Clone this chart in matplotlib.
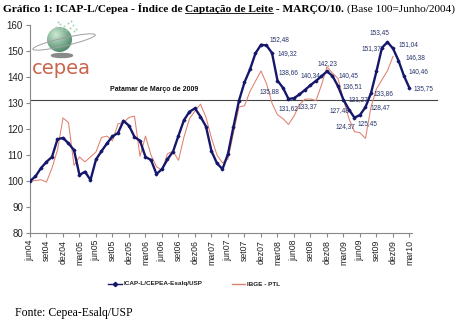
import numpy as np
import matplotlib
matplotlib.use("Agg")
import matplotlib.pyplot as plt
from matplotlib.patches import Circle, Ellipse
from matplotlib.lines import Line2D

plt.rcParams['font.family'] = ['Liberation Sans', 'DejaVu Sans']

# eixo x: um ponto por mes, rotulo a cada trimestre (jun/04 .. mar/10)
rotulos_x = ["jun04", "set04", "dez04", "mar05", "jun05", "set05", "dez05", "mar06",
             "jun06", "set06", "dez06", "mar07", "jun07", "set07", "dez07", "mar08",
             "jun08", "set08", "dez08", "mar09", "jun09", "set09", "dez09", "mar10"]

# ICAP-L/Cepea, base 100 = junho/2004
icap = [100.0, 101.8, 105.0, 107.4, 109.3, 116.1, 116.6, 114.5, 111.9, 102.3,
        103.6, 100.4, 108.3, 111.5, 114.5, 117.2, 118.5, 123.2, 121.3, 117.0,
        115.5, 109.3, 108.1, 102.7, 104.6, 108.4, 111.3, 117.5, 123.5, 126.7,
        128.0, 124.8, 121.0, 111.5, 106.8, 104.6, 110.5, 121.0, 131.0, 138.0,
        143.0, 149.2, 152.48, 152.2, 149.32, 138.66, 135.88, 131.62, 131.9, 133.37,
        135.1, 136.9, 138.6, 140.34, 142.23, 140.45, 136.51, 131.27, 127.48, 124.37,
        125.45, 128.47, 133.86, 142.3, 151.37, 153.45, 151.04, 146.38, 140.46, 135.75]

# IBGE - PTL (ate dez/09)
ibge = [100.0, 100.2, 100.5, 99.6, 105.0, 112.0, 124.3, 122.5, 106.0, 109.3,
        107.4, 109.3, 111.2, 116.8, 117.3, 115.5, 122.0, 122.5, 124.5, 125.0,
        109.5, 117.3, 110.0, 105.5, 104.2, 110.5, 111.5, 108.0, 117.0, 124.0,
        127.0, 129.6, 124.5, 116.5, 110.0, 107.0, 108.5, 118.5, 128.5, 129.0,
        134.5, 138.5, 142.4, 137.5, 130.0, 125.5, 124.0, 121.8, 125.0, 129.5,
        131.5, 131.6, 131.0, 137.0, 144.0, 141.5, 139.5, 131.3, 124.0, 119.0,
        118.6, 116.4, 128.5, 135.5, 139.0, 142.5, 148.0]

# meses do ICAP com valor escrito no grafico
meses_rotulados = [42, 44, 45, 46, 47, 49, 53, 54, 55, 56, 57, 58, 59, 60, 61, 62,
                   64, 65, 66, 67, 68, 69]
mes_patamar = 57  # marco/2009

# deslocamento (px) de cada rotulo em relacao ao ponto
desloc = [(9, 5), (6, -1), (1, 8), (-23, -4), (-10, -10), (-2, -12), (-21, 1), (-9, 8),
          (6, 0), (5, 0), (5, 0), (-19, -1), (-19, -9), (-2, -9), (5, 0), (3, 0),
          (-20, -1), (-18, 10), (6, 4), (7, 3), (5, 4), (4, 0)]

azul = '#15176a'
salmao = '#e0806e'
cinza = '#888888'

fig = plt.figure(figsize=(4.6, 3.26), dpi=100)
ax = fig.add_axes([30 / 460, 1 - 233 / 326, (411.7 - 30) / 460, (233 - 25.2) / 326])
ax.patch.set_alpha(0)

x_icap = np.arange(len(icap))
x_ibge = np.arange(len(ibge))

patamar = icap[mes_patamar]
ax.plot([0, 74], [patamar, patamar], color='#444444', lw=0.8, clip_on=False, zorder=1)
ax.text(22.6, 135.2, "Patamar de Março de 2009", fontsize=5, fontweight='bold',
        ha='center', va='center', color='#111111')

ax.plot(x_ibge, ibge, color=salmao, lw=0.75, zorder=2)
ax.plot(x_icap, icap, color=azul, lw=1.7, marker='D', ms=1.4, zorder=3)

for i, (dx, dy) in zip(meses_rotulados, desloc):
    ax.annotate(f"{icap[i]:.2f}".replace('.', ','), (i, icap[i]), xytext=(dx, dy),
                textcoords='offset pixels', fontsize=4.7, color='#27336b',
                ha='left', va='center')

ax.set_xlim(0, 69.4)
ax.set_ylim(80, 160)
ax.set_yticks(range(80, 161, 10))
ax.set_xticks(range(0, len(icap), 3))
ax.set_xticklabels(rotulos_x, rotation=90)
for lado in ['top', 'right']:
    ax.spines[lado].set_visible(False)
for lado in ['left', 'bottom']:
    ax.spines[lado].set_color(cinza)
    ax.spines[lado].set_linewidth(0.8)
ax.tick_params(axis='y', length=3, color=cinza, labelsize=7, labelcolor='#222222', pad=2)
ax.tick_params(axis='x', length=3, color=cinza, labelsize=6.3, labelcolor='#222222', pad=2)

# camada em pixels para titulo, logo, legenda e fonte
ov = fig.add_axes([0, 0, 1, 1], zorder=5)
ov.axis('off')
ov.patch.set_alpha(0)

r = fig.canvas.get_renderer()
serif = 'Liberation Serif'
partes = [("Gráfico 1: ICAP-L/Cepea - Índice de ", 'bold', False),
          ("Captação de Leite", 'bold', True),
          (" - MARÇO/10. ", 'bold', False),
          ("(Base 100=Junho/2004)", 'normal', False)]
x = 3
for s, peso, sub in partes:
    t = ov.text(x, 11.5, s, fontfamily=serif, fontsize=8.2, fontweight=peso, va='baseline')
    w = t.get_window_extent(r).width
    if sub:
        ov.plot([x, x + w], [13.0, 13.0], color='black', lw=0.6)
    x += w

ov.text(15, 316, "Fonte: Cepea-Esalq/USP", fontfamily=serif, fontsize=8.5, va='baseline')

# legenda
ov.add_line(Line2D([108, 115, 122], [284, 284, 284], color=azul, lw=1.0,
                   marker='D', ms=2.2, markevery=[1]))
ov.text(123.5, 284, "ICAP-L/CEPEA-Esalq/USP", fontsize=4.6, fontweight='bold',
        va='center', color='#222222')
ov.add_line(Line2D([232, 245], [284, 284], color=salmao, lw=1.0))
ov.text(247, 284, "IBGE - PTL", fontsize=4.6, fontweight='bold', va='center', color='#222222')

# logo cepea
cx, cy, rad = 59.5, 39.5, 12.5
yy, xx = np.mgrid[0:1:80j, 0:1:80j]
d = np.sqrt((xx - 0.35) ** 2 + (yy - 0.3) ** 2) / 0.95
d = np.clip(d, 0, 1)[..., None]
claro = np.array([0.80, 0.92, 0.82])
escuro = np.array([0.16, 0.42, 0.30])
img = claro * (1 - d) + escuro * d
im = ov.imshow(img, extent=(cx - rad, cx + rad, cy + rad, cy - rad), zorder=6)
im.set_clip_path(Circle((cx, cy), rad, transform=ov.transData))
ov.set_xlim(0, 460)
ov.set_ylim(326, 0)
ov.set_aspect('auto')
ov.add_patch(Ellipse((62, 55.5), 21, 4, color='#8a8a8a', zorder=6))
ov.add_patch(Ellipse((64, 42), 64, 8, angle=-13, fill=False, ec='#a0a0a0', lw=0.7, zorder=7))
pontos = [(56, 27), (60, 24), (64, 26), (68, 23), (70, 28), (73, 25), (66, 30),
          (76, 29), (62, 29), (71, 21), (58, 22), (74, 31)]
for px, py in pontos:
    ov.plot(px, py, 's', ms=1.2, color='#9fcfa8', mec='none', zorder=7)
ov.text(32, 74, "cepea", fontsize=14, color='#c9644e', va='baseline', ha='left',
        fontfamily='DejaVu Sans')

fig.savefig("out.png", dpi=100)
